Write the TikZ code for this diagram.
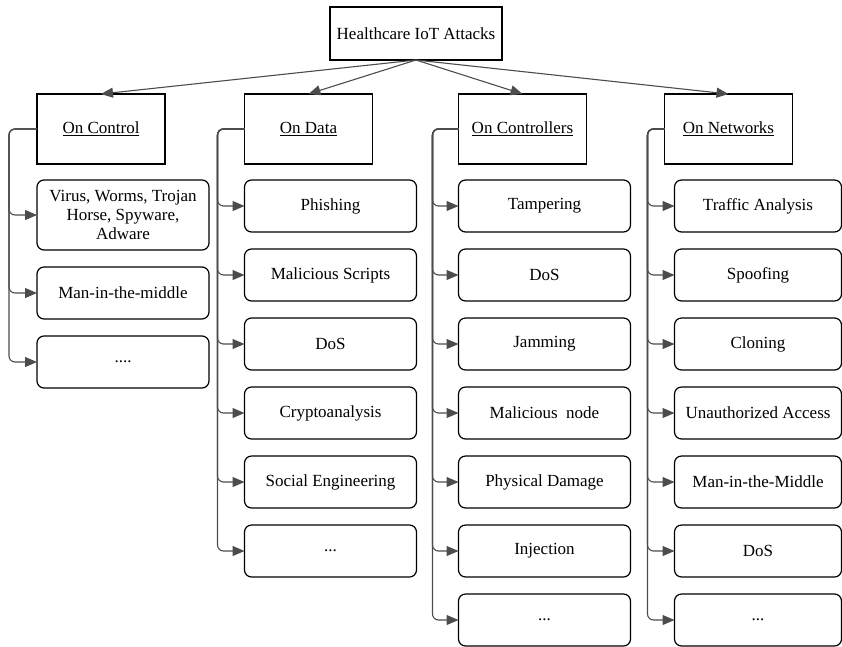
\documentclass[tikz,border=0pt]{standalone}
\usepackage{fontspec}
\setmainfont{Liberation Serif}
\usetikzlibrary{positioning, arrows.meta}

\tikzset{
    rootbox/.style={draw, line width=1.2pt, outer sep=0pt, minimum width=172pt, minimum height=53pt},
    catbox/.style={draw, line width=1.2pt, outer sep=0pt, minimum width=128pt, minimum height=70pt},
    itembox/.style={draw, line width=1.2pt, outer sep=0pt, rounded corners=7pt, minimum width=172pt,
        minimum height=52pt, align=center},
    link/.style={draw=black!70, line width=1.1pt, rounded corners=6pt,
        -{Triangle[length=12pt,width=10pt]}},
}

\begin{document}
\begin{tikzpicture}[x=1pt, y=-1pt, node distance=17pt,
        font=\fontsize{17}{19}\selectfont]
        \useasboundingbox (0,0) rectangle (842,646);

        \node[rootbox] (root) at (416,33.5) {Healthcare IoT Attacks};

        \node[catbox] (ctl) at (101,129)   {\underline{On Control}};
        \node[catbox] (dat) at (308.5,129) {\underline{On Data}};
        \node[catbox] (ctr) at (522.5,129) {\underline{On Controllers}};
        \node[catbox] (net) at (728.5,129) {\underline{On Networks}};

        % on control
        \node[itembox, minimum height=70pt] (ctl1) [below=16pt of ctl.south west, anchor=north west]
            {Virus, Worms, Trojan\\Horse, Spyware,\\Adware};
        \node[itembox] (ctl2) [below=of ctl1] {Man-in-the-middle};
        \node[itembox] (ctl3) [below=of ctl2] {....};

        % on data
        \node[itembox] (dat1) [below=16pt of dat.south west, anchor=north west] {Phishing};
        \node[itembox] (dat2) [below=of dat1] {Malicious Scripts};
        \node[itembox] (dat3) [below=of dat2] {DoS};
        \node[itembox] (dat4) [below=of dat3] {Cryptoanalysis};
        \node[itembox] (dat5) [below=of dat4] {Social Engineering};
        \node[itembox] (dat6) [below=of dat5] {...};

        % on controllers
        \node[itembox] (ctr1) [below=16pt of ctr.south west, anchor=north west] {Tampering};
        \node[itembox] (ctr2) [below=of ctr1] {DoS};
        \node[itembox] (ctr3) [below=of ctr2] {Jamming};
        \node[itembox] (ctr4) [below=of ctr3] {Malicious\ \ node};
        \node[itembox] (ctr5) [below=of ctr4] {Physical Damage};
        \node[itembox] (ctr6) [below=of ctr5] {Injection};
        \node[itembox] (ctr7) [below=of ctr6] {...};

        % on networks
        \node[itembox, minimum width=167pt] (net1) [below=16pt of net.south west, anchor=north west, xshift=10pt] {Traffic Analysis};
        \node[itembox, minimum width=167pt] (net2) [below=of net1] {Spoofing};
        \node[itembox, minimum width=167pt] (net3) [below=of net2] {Cloning};
        \node[itembox, minimum width=167pt] (net4) [below=of net3] {Unauthorized Access};
        \node[itembox, minimum width=167pt] (net5) [below=of net4] {Man-in-the-Middle};
        \node[itembox, minimum width=167pt] (net6) [below=of net5] {DoS};
        \node[itembox, minimum width=167pt] (net7) [below=of net6] {...};

        \foreach \c in {ctl, dat, ctr, net}
            \draw[link] (root.south) -- (\c.north);

        \foreach \i in {1,...,3}
            \draw[link] (ctl.west) -- ++(-28pt,0) |- (ctl\i.west);
        \foreach \i in {1,...,6}
            \draw[link] (dat.west) -- ++(-27pt,0) |- (dat\i.west);
        \foreach \i in {1,...,7}
            \draw[link] (ctr.west) -- ++(-26pt,0) |- (ctr\i.west);
        \foreach \i in {1,...,7}
            \draw[link] (net.west) -- ++(-17pt,0) |- (net\i.west);

    \end{tikzpicture}
\end{document}
